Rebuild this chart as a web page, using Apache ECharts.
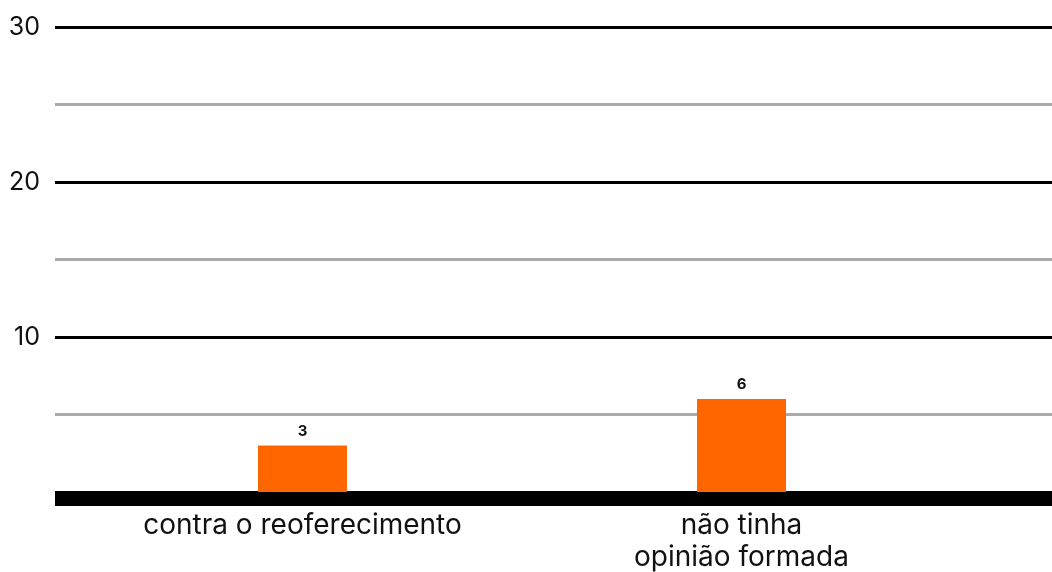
<!DOCTYPE html>
<html><head><meta charset="utf-8">
<script src="https://cdn.jsdelivr.net/npm/echarts@6/dist/echarts.min.js"></script>
<style>html,body{margin:0;padding:0;background:#fff}#c{width:1052px;height:572px}</style>
</head><body><div id="c"></div>
<script>
var categories = ['contra o reoferecimento', 'não tinha\nopinião formada'];
var values = [3, 6];
var yTicks = [0, 10, 20, 30];

var chart = echarts.init(document.getElementById('c'));
var FONT = 'Inter';
chart.setOption({
  animation: false,
  grid: [
    {left: 55, right: 0, top: 27, bottom: 80, outerBoundsMode: 'none'},
    {left: 83, right: 91, top: 27, bottom: 80, outerBoundsMode: 'none'},
    {left: 55, right: 0, top: 27, bottom: 73, outerBoundsMode: 'none'}
  ],
  xAxis: [
    {gridIndex: 0, type: 'category', data: [''], show: false},
    {gridIndex: 1, type: 'category', data: categories,
     axisLine: {show: false}, axisTick: {show: false},
     axisLabel: {color: '#111', fontFamily: FONT, fontSize: 28, lineHeight: 32, margin: 18}},
    {gridIndex: 2, type: 'category', data: [''], z: 5,
     axisLine: {show: true, lineStyle: {color: '#000', width: 14, cap: 'butt'}},
     axisTick: {show: false}, axisLabel: {show: false}}
  ],
  yAxis: [
    {gridIndex: 0, type: 'value', min: yTicks[0], max: yTicks[yTicks.length-1], interval: 10,
     axisLine: {show: false}, axisTick: {show: false},
     axisLabel: {showMinLabel: false, color: '#111', fontFamily: FONT, fontSize: 25, margin: 15},
     splitLine: {show: true, lineStyle: {color: '#000', width: 3}},
     minorTick: {show: false, splitNumber: 2},
     minorSplitLine: {show: true, lineStyle: {color: '#aaa', width: 3}}},
    {gridIndex: 1, type: 'value', min: yTicks[0], max: yTicks[yTicks.length-1], interval: 10, show: false,
     splitLine: {show: false}},
    {gridIndex: 2, type: 'value', min: 0, max: 1, show: false, splitLine: {show: false}}
  ],
  series: [{
    type: 'bar', xAxisIndex: 1, yAxisIndex: 1, data: values, barWidth: 89,
    itemStyle: {color: '#ff6600'},
    label: {show: true, position: 'top', distance: 7, color: '#111', fontFamily: FONT, fontWeight: 'bold', fontSize: 15}
  }]
});
</script></body></html>
